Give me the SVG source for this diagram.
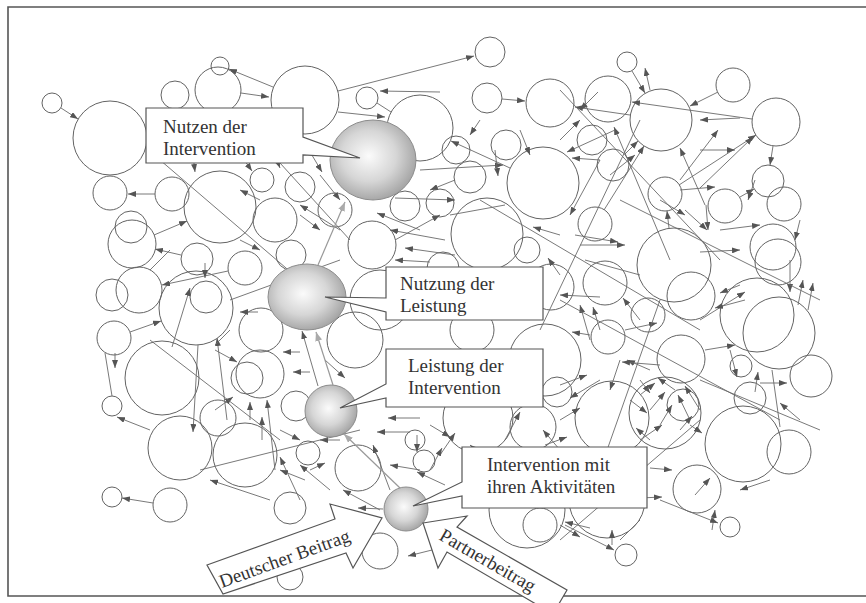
<svg xmlns="http://www.w3.org/2000/svg" width="866" height="603" viewBox="0 0 866 603">
  <defs>
    <style>
      .n{fill:none;stroke:#636363;stroke-width:1}
      .c{fill:none;stroke:#6a6a6a;stroke-width:0.9}
      .a{marker-end:url(#ah)}
      .g{fill:none;stroke:#999;stroke-width:1.2;marker-end:url(#ahg)}
      .hub{fill:url(#shade);stroke:#8c8c8c;stroke-width:1}
      .box{fill:#fff;stroke:#555;stroke-width:1.2}
      .t{font-family:"Liberation Serif","Times New Roman",serif;font-size:19px;fill:#333}
    </style>
    <marker id="ah" viewBox="0 0 8 6" refX="8" refY="3" markerWidth="8" markerHeight="6" markerUnits="userSpaceOnUse" orient="auto">
      <path d="M0,0 L8,3 L0,6 z" fill="#555"/>
    </marker>
    <marker id="ahg" viewBox="0 0 9 7" refX="9" refY="3.5" markerWidth="9" markerHeight="7" markerUnits="userSpaceOnUse" orient="auto">
      <path d="M0,0 L9,3.5 L0,7 z" fill="#aaa"/>
    </marker>
    <radialGradient id="shade" cx="45%" cy="45%" r="58%">
      <stop offset="0" stop-color="#fbfbfb"/>
      <stop offset="0.55" stop-color="#d6d6d6"/>
      <stop offset="1" stop-color="#a2a2a2"/>
    </radialGradient>
  </defs>

  <rect x="0" y="0" width="866" height="603" fill="#fff"/>
  <!-- page frame -->
  <path d="M870,7 H8 V596 H870" fill="none" stroke="#555" stroke-width="1.6"/>

  <!-- plain nodes -->
  <g id="nodes">
    <g id="n1"><circle class="n" cx="490" cy="52" r="15"/></g>
    <g id="n2"><circle class="n" cx="220" cy="66" r="9"/></g>
    <g id="n3"><circle class="n" cx="627" cy="62" r="10"/></g>
    <g id="n4"><circle class="n" cx="52" cy="103" r="10"/></g>
    <g id="n5"><circle class="n" cx="110" cy="138" r="37"/></g>
    <g id="n6"><circle class="n" cx="175" cy="95" r="14"/></g>
    <g id="n7"><circle class="n" cx="218" cy="90" r="23"/></g>
    <g id="n8"><circle class="n" cx="305" cy="100" r="34"/></g>
    <g id="n9"><circle class="n" cx="367" cy="98" r="11"/></g>
    <g id="n10"><circle class="n" cx="420" cy="128" r="33"/></g>
    <g id="n11"><circle class="n" cx="487" cy="98" r="15"/></g>
    <g id="n12"><circle class="n" cx="550" cy="103" r="24"/></g>
    <g id="n13"><circle class="n" cx="608" cy="99" r="23"/></g>
    <g id="n14"><circle class="n" cx="661" cy="120" r="31"/></g>
    <g id="n15"><circle class="n" cx="733" cy="85" r="17"/></g>
    <g id="n16"><circle class="n" cx="776" cy="122" r="24"/></g>
    <g id="n17"><circle class="n" cx="110" cy="193" r="17"/></g>
    <g id="n18"><circle class="n" cx="172" cy="194" r="17"/></g>
    <g id="n19"><circle class="n" cx="220" cy="207" r="36"/></g>
    <g id="n20"><circle class="n" cx="275" cy="220" r="22"/></g>
    <g id="n21"><circle class="n" cx="300" cy="187" r="15"/></g>
    <g id="n22"><circle class="n" cx="262" cy="180" r="12"/></g>
    <g id="n23"><circle class="n" cx="131" cy="227" r="16"/></g>
    <g id="n24"><circle class="n" cx="132" cy="244" r="24"/></g>
    <g id="n25"><circle class="n" cx="335" cy="210" r="17"/></g>
    <g id="n26"><circle class="n" cx="405" cy="206" r="15"/></g>
    <g id="n27"><circle class="n" cx="440" cy="203" r="14"/></g>
    <g id="n28"><circle class="n" cx="470" cy="177" r="16"/></g>
    <g id="n29"><circle class="n" cx="543" cy="183" r="36"/></g>
    <g id="n30"><circle class="n" cx="613" cy="165" r="16"/></g>
    <g id="n31"><circle class="n" cx="665" cy="194" r="17"/></g>
    <g id="n32"><circle class="n" cx="725" cy="206" r="17"/></g>
    <g id="n33"><circle class="n" cx="768" cy="181" r="16"/></g>
    <g id="n34"><circle class="n" cx="784" cy="204" r="17"/></g>
    <g id="n35"><circle class="n" cx="595" cy="224" r="17"/></g>
    <g id="n36"><circle class="n" cx="487" cy="234" r="36"/></g>
    <g id="n37"><circle class="n" cx="372" cy="245" r="24"/></g>
    <g id="n38"><circle class="n" cx="527" cy="250" r="13"/></g>
    <g id="n39"><circle class="n" cx="674" cy="265" r="37"/></g>
    <g id="n40"><circle class="n" cx="773" cy="247" r="23"/></g>
    <g id="n41"><circle class="n" cx="778" cy="262" r="23"/></g>
    <g id="n42"><circle class="n" cx="456" cy="150" r="14"/></g>
    <g id="n43"><circle class="n" cx="506" cy="145" r="15"/></g>
    <g id="n44"><circle class="n" cx="592" cy="140" r="15"/></g>
    <g id="n45"><circle class="n" cx="197" cy="259" r="16"/></g>
    <g id="n46"><circle class="n" cx="245" cy="268" r="17"/></g>
    <g id="n47"><circle class="n" cx="291" cy="255" r="15"/></g>
    <g id="n48"><circle class="n" cx="139" cy="290" r="23"/></g>
    <g id="n49"><circle class="n" cx="112" cy="295" r="16"/></g>
    <g id="n50"><circle class="n" cx="196" cy="308" r="37"/></g>
    <g id="n51"><circle class="n" cx="206" cy="297" r="16"/></g>
    <g id="n52"><circle class="n" cx="114" cy="338" r="17"/></g>
    <g id="n53"><circle class="n" cx="261" cy="330" r="22"/></g>
    <g id="n54"><circle class="n" cx="380" cy="300" r="30"/></g>
    <g id="n55"><circle class="n" cx="355" cy="340" r="28"/></g>
    <g id="n56"><circle class="n" cx="443" cy="268" r="16"/></g>
    <g id="n57"><circle class="n" cx="605" cy="283" r="22"/></g>
    <g id="n58"><circle class="n" cx="608" cy="337" r="17"/></g>
    <g id="n59"><circle class="n" cx="551" cy="287" r="23"/></g>
    <g id="n60"><circle class="n" cx="691" cy="296" r="24"/></g>
    <g id="n61"><circle class="n" cx="757" cy="315" r="37"/></g>
    <g id="n62"><circle class="n" cx="779" cy="333" r="36"/></g>
    <g id="n63"><circle class="n" cx="648" cy="315" r="17"/></g>
    <g id="n64"><circle class="n" cx="472" cy="330" r="22"/></g>
    <g id="n65"><circle class="n" cx="162" cy="378" r="37"/></g>
    <g id="n66"><circle class="n" cx="112" cy="406" r="10"/></g>
    <g id="n67"><circle class="n" cx="260" cy="374" r="24"/></g>
    <g id="n68"><circle class="n" cx="247" cy="378" r="16"/></g>
    <g id="n69"><circle class="n" cx="296" cy="406" r="15"/></g>
    <g id="n70"><circle class="n" cx="545" cy="360" r="36"/></g>
    <g id="n71"><circle class="n" cx="681" cy="359" r="24"/></g>
    <g id="n72"><circle class="n" cx="741" cy="366" r="11"/></g>
    <g id="n73"><circle class="n" cx="750" cy="398" r="16"/></g>
    <g id="n74"><circle class="n" cx="811" cy="376" r="21"/></g>
    <g id="n75"><circle class="n" cx="612" cy="418" r="37"/></g>
    <g id="n76"><circle class="n" cx="665" cy="413" r="36"/></g>
    <g id="n77"><circle class="n" cx="683" cy="405" r="16"/></g>
    <g id="n78"><circle class="n" cx="478" cy="418" r="35"/></g>
    <g id="n79"><circle class="n" cx="533" cy="427" r="23"/></g>
    <g id="n80"><circle class="n" cx="557" cy="392" r="15"/></g>
    <g id="n81"><circle class="n" cx="218" cy="418" r="18"/></g>
    <g id="n82"><circle class="n" cx="743" cy="444" r="38"/></g>
    <g id="n83"><circle class="n" cx="789" cy="452" r="22"/></g>
    <g id="n84"><circle class="n" cx="697" cy="489" r="24"/></g>
    <g id="n85"><circle class="n" cx="180" cy="448" r="32"/></g>
    <g id="n86"><circle class="n" cx="245" cy="455" r="32"/></g>
    <g id="n87"><circle class="n" cx="308" cy="453" r="12"/></g>
    <g id="n88"><circle class="n" cx="358" cy="468" r="23"/></g>
    <g id="n89"><circle class="n" cx="424" cy="461" r="11"/></g>
    <g id="n90"><circle class="n" cx="415" cy="440" r="10"/></g>
    <g id="n91"><circle class="n" cx="290" cy="508" r="16"/></g>
    <g id="n92"><circle class="n" cx="527" cy="510" r="38"/></g>
    <g id="n93"><circle class="n" cx="540" cy="525" r="17"/></g>
    <g id="n94"><circle class="n" cx="607" cy="500" r="38"/></g>
    <g id="n95"><circle class="n" cx="112" cy="497" r="10"/></g>
    <g id="n96"><circle class="n" cx="170" cy="505" r="17"/></g>
    <g id="n97"><circle class="n" cx="380" cy="551" r="18"/></g>
    <g id="n98"><circle class="n" cx="626" cy="555" r="11"/></g>
    <g id="n99"><circle class="n" cx="730" cy="527" r="10"/></g>
    <g id="n100"><circle class="n" cx="290" cy="577" r="13"/></g>
  </g>

  <!-- connectors -->
  <g id="connectors">
    <!-- upper band -->
    <line class="c a" x1="61" y1="108" x2="78" y2="119"/>
    <line class="c a" x1="241" y1="93" x2="269" y2="97"/>
    <line class="c a" x1="273" y1="87" x2="229" y2="69"/>
    <line class="c a" x1="338" y1="91" x2="474" y2="56"/>
    <line class="c" x1="377" y1="103" x2="391" y2="112"/>
    <line class="c a" x1="502" y1="99" x2="525" y2="101"/>
    <line class="c a" x1="718" y1="92" x2="690" y2="106"/>
    <line class="c a" x1="752" y1="119" x2="632" y2="102"/>
    <line class="c a" x1="632" y1="71" x2="645" y2="93"/>
    <line class="c a" x1="773" y1="146" x2="770" y2="165"/>
    <line class="c a" x1="630" y1="115" x2="575" y2="107"/>
    <line class="c a" x1="625" y1="154" x2="638" y2="141"/>
    <line class="c a" x1="679" y1="185" x2="756" y2="135"/>
    <line class="c a" x1="604" y1="210" x2="644" y2="146"/>
    <line class="c a" x1="740" y1="197" x2="754" y2="189"/>
    <line class="c a" x1="669" y1="228" x2="667" y2="211"/>
    <line class="c a" x1="510" y1="168" x2="451" y2="141"/>
    <line class="c a" x1="440" y1="92" x2="380" y2="91"/>
    <line class="c a" x1="338" y1="112" x2="385" y2="117"/>
    <line class="c a" x1="190" y1="130" x2="195" y2="172"/>
    <line class="c a" x1="230" y1="140" x2="252" y2="171"/>
    <line class="c a" x1="265" y1="130" x2="280" y2="168"/>
    <line class="c a" x1="300" y1="135" x2="322" y2="172"/>
    <line class="c a" x1="320" y1="175" x2="340" y2="200"/>
    <line class="c a" x1="598" y1="92" x2="580" y2="110"/>
    <line class="c a" x1="650" y1="90" x2="645" y2="68"/>
    <line class="c a" x1="740" y1="118" x2="700" y2="120"/>
    <line class="c a" x1="680" y1="180" x2="718" y2="130"/>
    <line class="c a" x1="700" y1="188" x2="753" y2="137"/>
    <line class="c a" x1="705" y1="205" x2="680" y2="148"/>
    <line class="c a" x1="670" y1="260" x2="614" y2="127"/>
    <line class="c a" x1="610" y1="175" x2="635" y2="155"/>
    <line class="c a" x1="615" y1="130" x2="567" y2="152"/>
    <line class="c a" x1="600" y1="160" x2="572" y2="158"/>
    <line class="c a" x1="680" y1="190" x2="715" y2="187"/>
    <line class="c a" x1="755" y1="180" x2="748" y2="200"/>
    <line class="c a" x1="660" y1="200" x2="685" y2="215"/>
    <line class="c a" x1="685" y1="210" x2="707" y2="230"/>
    <line class="c a" x1="700" y1="252" x2="740" y2="250"/>
    <line class="c a" x1="575" y1="235" x2="618" y2="242"/>
    <line class="c a" x1="580" y1="245" x2="625" y2="245"/>
    <line class="c a" x1="420" y1="170" x2="503" y2="165"/>
    <line class="c a" x1="495" y1="150" x2="498" y2="176"/>
    <line class="c a" x1="395" y1="198" x2="455" y2="200"/>
    <line class="c a" x1="560" y1="235" x2="533" y2="227"/>
    <line class="c a" x1="600" y1="160" x2="570" y2="215"/>
    <line class="c a" x1="560" y1="275" x2="548" y2="258"/>
    <line class="c a" x1="420" y1="230" x2="377" y2="213"/>
    <line class="c a" x1="445" y1="240" x2="390" y2="230"/>
    <line class="c a" x1="455" y1="255" x2="405" y2="248"/>
    <line class="c a" x1="430" y1="262" x2="395" y2="260"/>
    <line class="c a" x1="395" y1="240" x2="440" y2="215"/>
    <line class="c a" x1="340" y1="230" x2="300" y2="205"/>
    <line class="c a" x1="455" y1="180" x2="430" y2="190"/>
    <line class="c" x1="450" y1="215" x2="505" y2="205"/>
    <line class="c a" x1="480" y1="120" x2="470" y2="135"/>
    <line class="c a" x1="520" y1="130" x2="530" y2="155"/>
    <line class="c a" x1="560" y1="140" x2="580" y2="120"/>
    <line class="c a" x1="700" y1="150" x2="735" y2="150"/>
    <line class="c a" x1="720" y1="230" x2="760" y2="225"/>
    <line class="c a" x1="800" y1="220" x2="795" y2="240"/>
    <line class="c a" x1="260" y1="200" x2="240" y2="190"/>
    <line class="c a" x1="300" y1="215" x2="320" y2="230"/>
    <!-- left band -->
    <line class="c a" x1="155" y1="194" x2="128" y2="194"/>
    <line class="c a" x1="154" y1="235" x2="187" y2="221"/>
    <line class="c a" x1="181" y1="255" x2="155" y2="249"/>
    <line class="c a" x1="228" y1="271" x2="162" y2="285"/>
    <line class="c a" x1="205" y1="263" x2="205" y2="278"/>
    <line class="c a" x1="172" y1="347" x2="190" y2="288"/>
    <line class="c a" x1="130" y1="332" x2="161" y2="321"/>
    <line class="c a" x1="115" y1="353" x2="115" y2="368"/>
    <line class="c" x1="105" y1="353" x2="112" y2="396"/>
    <line class="c a" x1="198" y1="345" x2="193" y2="432"/>
    <line class="c a" x1="227" y1="420" x2="217" y2="338"/>
    <line class="c a" x1="258" y1="312" x2="240" y2="312"/>
    <line class="c a" x1="215" y1="350" x2="237" y2="362"/>
    <line class="c a" x1="215" y1="410" x2="233" y2="397"/>
    <line class="c a" x1="250" y1="420" x2="250" y2="402"/>
    <line class="c a" x1="262" y1="440" x2="262" y2="417"/>
    <line class="c a" x1="275" y1="470" x2="267" y2="400"/>
    <line class="c a" x1="300" y1="352" x2="283" y2="352"/>
    <line class="c a" x1="310" y1="372" x2="293" y2="372"/>
    <line class="c a" x1="318" y1="386" x2="302" y2="331"/>
    <line class="c a" x1="325" y1="360" x2="345" y2="378"/>
    <line class="c a" x1="150" y1="430" x2="117" y2="417"/>
    <line class="c a" x1="153" y1="503" x2="122" y2="498"/>
    <line class="c" x1="150" y1="270" x2="170" y2="250"/>
    <line class="c a" x1="240" y1="240" x2="260" y2="250"/>
    <line class="c" x1="230" y1="330" x2="215" y2="345"/>
    <line class="c a" x1="340" y1="440" x2="320" y2="440"/>
    <line class="c a" x1="280" y1="430" x2="300" y2="440"/>
    <!-- centre band -->
    <line class="c a" x1="600" y1="297" x2="560" y2="295"/>
    <line class="c a" x1="590" y1="340" x2="580" y2="305"/>
    <line class="c a" x1="600" y1="330" x2="593" y2="307"/>
    <line class="c a" x1="590" y1="335" x2="572" y2="332"/>
    <line class="c a" x1="640" y1="320" x2="623" y2="298"/>
    <line class="c a" x1="650" y1="370" x2="627" y2="360"/>
    <line class="c a" x1="625" y1="330" x2="657" y2="323"/>
    <line class="c a" x1="560" y1="385" x2="587" y2="375"/>
    <line class="c a" x1="620" y1="360" x2="610" y2="390"/>
    <line class="c a" x1="640" y1="380" x2="650" y2="393"/>
    <line class="c a" x1="675" y1="390" x2="658" y2="378"/>
    <line class="c a" x1="630" y1="400" x2="647" y2="413"/>
    <line class="c a" x1="420" y1="418" x2="388" y2="418"/>
    <line class="c a" x1="410" y1="432" x2="377" y2="432"/>
    <line class="c a" x1="430" y1="425" x2="450" y2="437"/>
    <line class="c a" x1="545" y1="445" x2="567" y2="437"/>
    <line class="c a" x1="560" y1="420" x2="580" y2="408"/>
    <line class="c" x1="585" y1="260" x2="640" y2="275"/>
    <line class="c a" x1="600" y1="380" x2="570" y2="398"/>
    <line class="c a" x1="700" y1="320" x2="745" y2="292"/>
    <!-- right band -->
    <line class="c a" x1="706" y1="205" x2="708" y2="230"/>
    <line class="c a" x1="740" y1="285" x2="720" y2="293"/>
    <line class="c a" x1="745" y1="300" x2="715" y2="308"/>
    <line class="c a" x1="790" y1="260" x2="790" y2="292"/>
    <line class="c a" x1="798" y1="305" x2="803" y2="280"/>
    <line class="c a" x1="808" y1="310" x2="813" y2="283"/>
    <line class="c a" x1="705" y1="350" x2="735" y2="345"/>
    <line class="c a" x1="660" y1="365" x2="622" y2="362"/>
    <line class="c a" x1="730" y1="350" x2="737" y2="377"/>
    <line class="c a" x1="755" y1="392" x2="758" y2="372"/>
    <line class="c a" x1="760" y1="383" x2="787" y2="383"/>
    <line class="c a" x1="640" y1="395" x2="655" y2="383"/>
    <line class="c a" x1="650" y1="410" x2="665" y2="392"/>
    <line class="c a" x1="660" y1="425" x2="672" y2="405"/>
    <line class="c a" x1="690" y1="420" x2="678" y2="395"/>
    <line class="c a" x1="700" y1="410" x2="685" y2="386"/>
    <line class="c a" x1="680" y1="430" x2="692" y2="416"/>
    <line class="c a" x1="640" y1="440" x2="662" y2="425"/>
    <line class="c a" x1="650" y1="440" x2="636" y2="428"/>
    <line class="c a" x1="690" y1="425" x2="702" y2="433"/>
    <line class="c a" x1="650" y1="468" x2="672" y2="470"/>
    <line class="c a" x1="695" y1="495" x2="710" y2="478"/>
    <line class="c a" x1="640" y1="498" x2="662" y2="497"/>
    <line class="c a" x1="712" y1="530" x2="715" y2="510"/>
    <line class="c" x1="772" y1="370" x2="780" y2="427"/>
    <line class="c a" x1="660" y1="500" x2="718" y2="523"/>
    <line class="c a" x1="800" y1="420" x2="780" y2="403"/>
    <line class="c a" x1="770" y1="480" x2="740" y2="490"/>
    <!-- lower band -->
    <line class="c a" x1="565" y1="525" x2="614" y2="550"/>
    <line class="c a" x1="612" y1="545" x2="612" y2="530"/>
    <line class="c a" x1="560" y1="525" x2="580" y2="537"/>
    <line class="c a" x1="590" y1="528" x2="565" y2="522"/>
    <line class="c a" x1="440" y1="548" x2="408" y2="556"/>
    <line class="c a" x1="440" y1="455" x2="455" y2="433"/>
    <line class="c a" x1="430" y1="470" x2="442" y2="448"/>
    <line class="c a" x1="445" y1="485" x2="417" y2="472"/>
    <line class="c a" x1="505" y1="440" x2="520" y2="412"/>
    <line class="c a" x1="560" y1="450" x2="543" y2="430"/>
    <line class="c a" x1="480" y1="460" x2="520" y2="470"/>
    <line class="c a" x1="500" y1="470" x2="470" y2="445"/>
    <line class="c a" x1="560" y1="470" x2="600" y2="460"/>
    <line class="c" x1="640" y1="520" x2="620" y2="540"/>
    <line class="c a" x1="270" y1="500" x2="210" y2="480"/>
    <line class="c a" x1="300" y1="500" x2="280" y2="457"/>
    <line class="c a" x1="305" y1="480" x2="280" y2="470"/>
    <line class="c a" x1="330" y1="490" x2="300" y2="465"/>
    <line class="c a" x1="310" y1="470" x2="325" y2="463"/>
    <line class="c a" x1="380" y1="510" x2="343" y2="490"/>
    <line class="c a" x1="383" y1="509" x2="358" y2="508"/>
    <line class="c a" x1="390" y1="490" x2="373" y2="445"/>
    <line class="c a" x1="420" y1="470" x2="390" y2="465"/>
    <line class="c a" x1="417" y1="435" x2="417" y2="452"/>
    <!-- long crossing links -->
    <line class="c" x1="560" y1="90" x2="720" y2="260"/>
    <line class="c" x1="640" y1="120" x2="540" y2="330"/>
    <line class="c" x1="480" y1="200" x2="700" y2="330"/>
    <line class="c" x1="620" y1="200" x2="820" y2="300"/>
    <line class="c" x1="560" y1="300" x2="780" y2="420"/>
    <line class="c" x1="660" y1="300" x2="600" y2="470"/>
    <line class="c" x1="700" y1="380" x2="820" y2="430"/>
    <line class="c" x1="250" y1="130" x2="350" y2="240"/>
    <line class="c" x1="160" y1="160" x2="300" y2="280"/>
    <line class="c" x1="230" y1="300" x2="340" y2="260"/>
    <line class="c" x1="150" y1="340" x2="280" y2="440"/>
    <line class="c" x1="200" y1="470" x2="360" y2="430"/>
    <line class="c" x1="560" y1="540" x2="700" y2="420"/>
    <line class="c" x1="440" y1="300" x2="500" y2="270"/>
    <!-- chain between the hubs -->
    <line class="g" x1="333" y1="385" x2="316" y2="332"/>
    <line class="g" x1="400" y1="488" x2="344" y2="434"/>
    <line class="g" x1="318" y1="265" x2="345" y2="202"/>
  </g>

  <!-- shaded hub nodes -->
  <g id="hub-nutzen"><ellipse class="hub" cx="373" cy="160" rx="43" ry="40"/></g>
  <g id="hub-nutzung"><ellipse class="hub" cx="307" cy="297" rx="39" ry="33"/></g>
  <g id="hub-leistung"><circle class="hub" cx="331" cy="411" r="26"/></g>
  <g id="hub-intervention"><circle class="hub" cx="406" cy="509" r="22"/></g>

  <!-- callout labels -->
  <g id="label-nutzen">
    <path class="box" d="M146,108 H303 V137 L360,158 L303,155 V163 H146 Z"/>
    <text class="t" x="163" y="133">Nutzen der</text>
    <text class="t" x="163" y="155">Intervention</text>
  </g>
  <g id="label-nutzung">
    <path class="box" d="M386,267 H543 V320 H386 V312 L325,297 L386,298 Z"/>
    <text class="t" x="400" y="290">Nutzung der</text>
    <text class="t" x="400" y="312">Leistung</text>
  </g>
  <g id="label-leistung">
    <path class="box" d="M386,349 H543 V407 H386 V398 L340,408 L386,384 Z"/>
    <text class="t" x="408" y="372">Leistung der</text>
    <text class="t" x="408" y="394">Intervention</text>
  </g>
  <g id="label-intervention">
    <path class="box" d="M462,447 H647 V508 H462 V496 L413,506 L462,482 Z"/>
    <text class="t" x="487" y="471">Intervention mit</text>
    <text class="t" x="487" y="493">ihren Aktivitäten</text>
  </g>

  <!-- input arrows -->
  <g id="input-deutsch">
    <path class="box" d="M207,565 L335,519 L330,504 L382,518 L353,568 L346,553 L223,594 Z"/>
    <text class="t" x="222" y="588" transform="rotate(-20 222 588)">Deutscher Beitrag</text>
  </g>
  <g id="input-partner">
    <path class="box" d="M423,523 L467,516 L457,527 L567,590 L553,614 L447,552 L438,568 Z"/>
    <text class="t" x="438" y="539" transform="rotate(30 438 539)">Partnerbeitrag</text>
  </g>
</svg>
